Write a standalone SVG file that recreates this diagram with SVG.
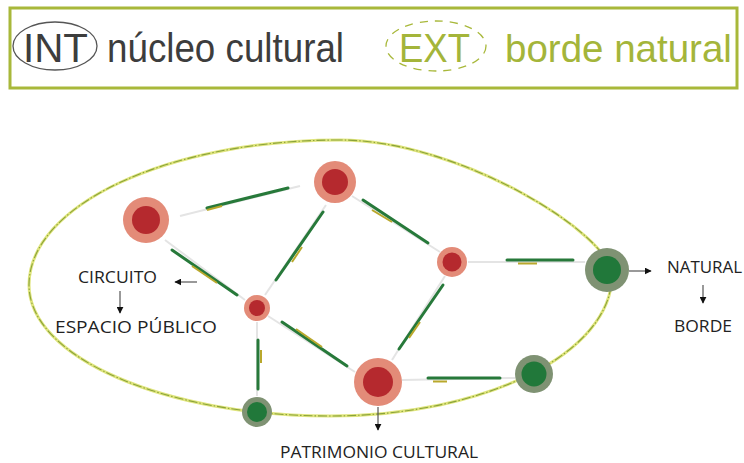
<svg xmlns="http://www.w3.org/2000/svg" width="744" height="463" viewBox="0 0 744 463">
<defs>
<marker id="ah" viewBox="0 0 10 10" refX="9" refY="5" markerWidth="7" markerHeight="7" markerUnits="userSpaceOnUse" orient="auto">
<path d="M0,0 L10,5 L0,10 z" fill="#111"/>
</marker>
<style>
.lbl{font-family:"Open Sans","Liberation Sans",sans-serif;font-size:16px;fill:#222}
.big{font-family:"Liberation Sans",Arial,sans-serif;font-size:41px}
.arr{stroke:#555;stroke-width:1.2;fill:none;marker-end:url(#ah)}
.faint{stroke:#e4e4e4;stroke-width:2;fill:none}
.grn{stroke:#27793a;stroke-width:3;fill:none;stroke-linecap:round}
.yel{stroke:#b9a82c;stroke-width:2;fill:none}
.rO{fill:#e38b78}.rI{fill:#b5292e}
.gO{fill:#7f9273}.gI{fill:#21783a}
</style>
</defs>
<rect width="744" height="463" fill="#fff"/>
<g id="legend">
<rect x="10" y="8" width="727" height="80" fill="#fff" stroke="#a8b83a" stroke-width="3"/>
<ellipse cx="55" cy="46" rx="42" ry="24" fill="none" stroke="#555" stroke-width="1.3"/>
<text class="big" x="23" y="62" textLength="65" lengthAdjust="spacingAndGlyphs" fill="#3d3d3d">INT</text>
<text class="big" x="107" y="62" textLength="237" lengthAdjust="spacingAndGlyphs" fill="#3d3d3d">núcleo cultural</text>
<ellipse cx="436" cy="46" rx="50" ry="25" fill="none" stroke="#a8b83a" stroke-width="1.3" stroke-dasharray="8 7"/>
<text class="big" x="399" y="62" textLength="71" lengthAdjust="spacingAndGlyphs" fill="#a4b53a">EXT</text>
<text x="505" y="62" font-family="Liberation Sans, Arial, sans-serif" font-size="38.5" fill="#a4b53a">borde natural</text>
</g>
<g id="boundary">
<path d="M340,140 C168,140 29,205 29,285 C29,357 164,416 330,416 C486,416 612,353 612,275 C612,235 460,140 340,140 Z" fill="none" stroke="#e0e57e" stroke-width="3"/>
<path d="M340,140 C168,140 29,205 29,285 C29,357 164,416 330,416 C486,416 612,353 612,275 C612,235 460,140 340,140 Z" fill="none" stroke="#8aa33a" stroke-width="1.1" stroke-dasharray="9 2 1.5 2"/>
</g>
<g id="connectors">
<line class="faint" x1="180" y1="216" x2="300" y2="186"/>
<line class="grn" x1="207" y1="208" x2="288" y2="188"/>
<line class="yel" x1="207" y1="210" x2="222" y2="206"/>
<line class="faint" x1="165" y1="240" x2="245" y2="300"/>
<line class="grn" x1="172" y1="250" x2="237" y2="295"/>
<line class="yel" x1="192" y1="266" x2="217" y2="283"/>
<line class="faint" x1="326" y1="205" x2="265" y2="295"/>
<line class="grn" x1="323" y1="212" x2="276" y2="280"/>
<line class="yel" x1="302" y1="247" x2="292" y2="262"/>
<line class="faint" x1="352" y1="196" x2="440" y2="252"/>
<line class="grn" x1="363" y1="200" x2="428" y2="243"/>
<line class="yel" x1="372" y1="210" x2="392" y2="222"/>
<line class="faint" x1="468" y1="262" x2="585" y2="262"/>
<line class="grn" x1="507" y1="260" x2="573" y2="260"/>
<line class="yel" x1="518" y1="263.5" x2="537" y2="263.5" stroke-width="3"/>
<line class="faint" x1="445" y1="276" x2="392" y2="360"/>
<line class="grn" x1="443" y1="285" x2="399" y2="349"/>
<line class="yel" x1="409" y1="338" x2="420" y2="322"/>
<line class="faint" x1="268" y1="316" x2="355" y2="372"/>
<line class="grn" x1="282" y1="322" x2="347" y2="366"/>
<line class="yel" x1="296" y1="329" x2="322" y2="347"/>
<line class="faint" x1="257" y1="322" x2="257" y2="396"/>
<line class="grn" x1="258" y1="340" x2="258" y2="389"/>
<line class="yel" x1="261" y1="350" x2="261" y2="363"/>
<line class="faint" x1="402" y1="380" x2="515" y2="378"/>
<line class="grn" x1="428" y1="378" x2="500" y2="378"/>
<line class="yel" x1="433" y1="381.5" x2="447" y2="381.5" stroke-width="3"/>
<line class="arr" x1="197" y1="282" x2="175" y2="282"/>
<line class="arr" x1="120" y1="291" x2="120" y2="313"/>
<line class="arr" x1="629" y1="271" x2="651" y2="271"/>
<line class="arr" x1="703" y1="285" x2="703" y2="303"/>
<line class="arr" x1="378" y1="407" x2="378" y2="430"/>
</g>
<g id="n1"><circle class="rO" cx="146" cy="220" r="23"/><circle class="rI" cx="146" cy="220" r="14"/></g>
<g id="n2"><circle class="rO" cx="335" cy="182" r="21"/><circle class="rI" cx="335" cy="182" r="13"/></g>
<g id="n3"><circle class="rO" cx="452" cy="262" r="15"/><circle class="rI" cx="452" cy="262" r="9.5"/></g>
<g id="n4"><circle class="rO" cx="257" cy="308" r="13"/><circle class="rI" cx="257" cy="308" r="8"/></g>
<g id="n5"><circle class="rO" cx="378" cy="382" r="24"/><circle class="rI" cx="378" cy="382" r="15"/></g>
<g id="n6"><circle class="gO" cx="607" cy="270" r="22"/><circle class="gI" cx="607" cy="270" r="14"/></g>
<g id="n7"><circle class="gO" cx="534" cy="374" r="19"/><circle class="gI" cx="534" cy="374" r="12.5"/></g>
<g id="n8"><circle class="gO" cx="257" cy="412" r="15"/><circle class="gI" cx="257" cy="412" r="10"/></g>
<g id="labels">
<text class="lbl" x="78" y="283" textLength="79" lengthAdjust="spacingAndGlyphs">CIRCUITO</text>
<text class="lbl" x="55" y="333" textLength="162" lengthAdjust="spacingAndGlyphs">ESPACIO PÚBLICO</text>
<text class="lbl" x="667" y="273" textLength="75" lengthAdjust="spacingAndGlyphs">NATURAL</text>
<text class="lbl" x="674" y="332" textLength="58" lengthAdjust="spacingAndGlyphs">BORDE</text>
<text class="lbl" x="280" y="458" textLength="198" lengthAdjust="spacingAndGlyphs">PATRIMONIO CULTURAL</text>
</g>
</svg>
